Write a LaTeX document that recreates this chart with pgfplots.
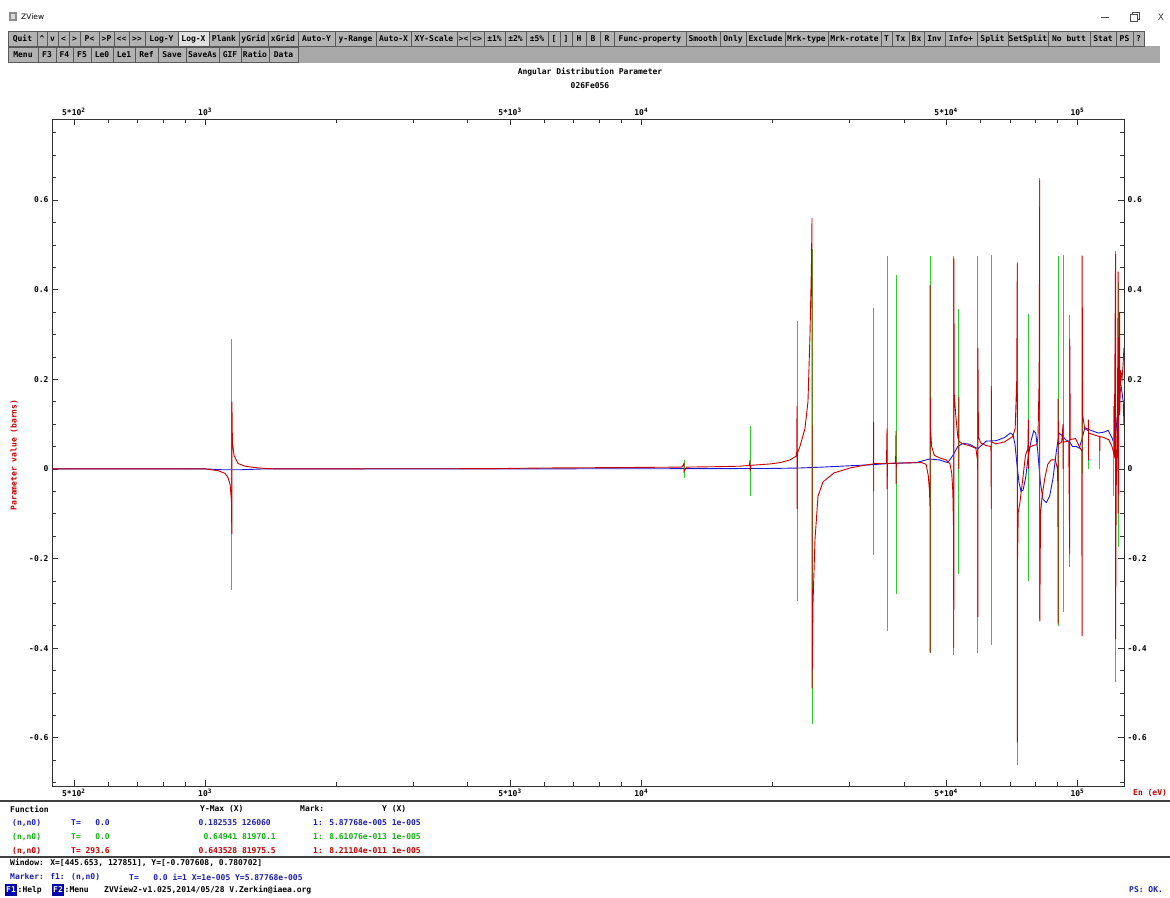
\documentclass[border=0pt]{standalone}
\usepackage{fontspec}
\usepackage{pgfplots}
\pgfplotsset{compat=1.18}
\newfontfamily\zmono{DejaVu Sans Mono}
\newfontfamily\zsans{DejaVu Sans}
\newcommand\zt{\zmono\bfseries\fontsize{8}{9}\selectfont}
\definecolor{zblue}{RGB}{25,25,215}
\definecolor{zgreen}{RGB}{50,200,50}
\definecolor{zred}{RGB}{200,0,0}
\definecolor{tblue}{RGB}{30,30,175}
\definecolor{tgreen}{RGB}{20,175,20}
\definecolor{tred}{RGB}{190,0,0}
\definecolor{btnface}{RGB}{178,178,178}
\definecolor{barbg}{RGB}{168,168,168}
\definecolor{keyblue}{RGB}{0,0,170}

% one toolbar button: left, right, top, label
\newcommand\btn[4]{%
  \draw[fill=btnface,draw=black!65,line width=0.6pt] (#1,#3) rectangle (#2,#3+15);
  \node[font=\zt,inner sep=0pt,anchor=base] at ({(#1+#2)/2},#3+10.6) {#4};}

\begin{document}
\begin{tikzpicture}[x=1pt,y=-1pt]
\useasboundingbox (0,0) rectangle (1170,897);
\fill[white] (0,0) rectangle (1170,897);

% ---- window title bar
\fill[black!45] (9,12) rectangle (17,21);
\fill[black!15] (11,14) rectangle (15,19);
\node[font=\zsans\fontsize{7.5}{9}\selectfont,anchor=west,inner sep=0pt] at (21,17) {ZView};
\draw[black!70,line width=0.7pt] (1101,17) -- (1109,17);
\draw[black!70,line width=0.7pt] (1130,14) rectangle (1137,21);
\draw[black!70,line width=0.7pt] (1132,14) -- (1132,12) -- (1139,12) -- (1139,19) -- (1137,19);
\node[font=\zsans\fontsize{9}{10}\selectfont,inner sep=0pt,black!75] at (1161,17) {X};

% ---- toolbar
\fill[barbg] (8,46) rectangle (1160,63);
\foreach \a/\b/\t in {8/37/Quit,37/47/\textasciicircum,47/58/v,58/69/<,69/80/>,
  80/99/P<,99/114/>P,114/129/<<,129/145/>>,145/178/Log-Y,178/209/Log-X,
  209/239/Plank,239/268/yGrid,268/298/xGrid,298/335/Auto-Y,335/376/y-Range,
  376/411/Auto-X,411/457/XY-Scale,457/470/><,470/484/<>,484/505/±1\%,
  505/526/±2\%,526/548/±5\%,548/560/{[},560/572/{]},572/586/H,586/600/B,
  600/614/R,614/686/Func-property,686/720/Smooth,720/746/Only,746/785/Exclude,
  785/828/Mrk-type,828/881/Mrk-rotate,881/892/T,892/909/Tx,909/924/Bx,
  924/945/Inv,945/977/Info+,977/1008/Split,1008/1048/SetSplit,
  1048/1090/No butt,1090/1116/Stat,1116/1133/PS,1133/1144/?}
  {\btn{\a}{\b}{31}{\t}}
\draw[fill=black!12,draw=black!65,line width=0.6pt] (178,31) rectangle (209,46);
\node[font=\zt,inner sep=0pt,anchor=base] at (193.5,41.6) {Log-X};
\foreach \a/\b/\t in {8/38/Menu,38/56/F3,56/73/F4,73/91/F5,91/113/Le0,
  113/135/Le1,135/158/Ref,158/186/Save,186/219/SaveAs,219/241/GIF,
  241/269/Ratio,269/298/Data}
  {\btn{\a}{\b}{47}{\t}}

% ---- titles
\node[font=\zt,inner sep=0pt] at (590,72) {Angular Distribution Parameter};
\node[font=\zt,inner sep=0pt] at (590,86) {026Fe056};

% ---- plot
\begin{axis}[
  at={(52pt,-786pt)}, anchor=south west, scale only axis,
  width=1072pt, height=667pt,
  xmode=log, xmin=445.653, xmax=127851,
  ymin=-0.707608, ymax=0.780702,
  xtick={500,1000,5000,10000,50000,100000},
  xticklabels={5*10\textsuperscript{2},10\textsuperscript{3},5*10\textsuperscript{3},10\textsuperscript{4},5*10\textsuperscript{4},10\textsuperscript{5}},
  minor xtick={600,700,800,900,2000,3000,4000,6000,7000,8000,9000,20000,30000,40000,60000,70000,80000,90000},
  ytick={-0.6,-0.4,-0.2,0,0.2,0.4,0.6},
  yticklabels={-0.6,-0.4,-0.2,0,0.2,0.4,0.6},
  minor ytick={-0.7,-0.65,-0.55,-0.5,-0.45,-0.35,-0.3,-0.25,-0.15,-0.1,-0.05,0.05,0.1,0.15,0.25,0.3,0.35,0.45,0.5,0.55,0.65,0.7,0.75},
  tick label style={font=\zt},
  major tick length=6pt, minor tick length=4pt,
  tick style={black!80,line width=0.6pt},
  axis line style={black!80,line width=0.8pt},
  unbounded coords=jump,
]
% (n,n0), T=0, smooth component
\addplot[zblue,line width=0.9pt] coordinates {
(445.653,0) (1000,0) (1100,-0.002) (1200,-0.002) (1372,0) (4500,0)
(13630,0.0005) (20000,0.001) (23110,0.002) (26000,0.004) (30100,0.007)
(33330,0.009) (37060,0.012) (42670,0.014) (45780,0.022) (48280,0.020)
(50450,0.014) (51800,0.030) (53190,0.050) (54610,0.057) (56570,0.055)
(59130,0.045) (60180,0.052) (61800,0.062) (65150,0.063) (68090,0.070)
(70170,0.080) (71160,0.076) (71920,0.055) (72680,0.010) (73450,-0.030)
(74240,-0.050) (75020,-0.048) (76080,-0.020) (77180,0.030) (78410,0.065)
(79390,0.085) (80240,0.080) (81090,0.040) (82220,-0.030) (83390,-0.068)
(84880,-0.075) (86400,-0.060) (87940,-0.020) (89500,0.040) (90780,0.080)
(92050,0.075) (94020,0.065) (96030,0.060) (97390,0.050) (99470,0.050)
(100900,0.046) (102330,0.065) (103970,0.092) (106760,0.087) (111560,0.080)
(114980,0.082) (117650,0.086) (119950,0.070) (121870,0.050) (122950,0.100)
(124680,0.165) (126060,0.1825) (127350,0.150) (127851,0.100)
};
% (n,n0), T=0, resonance peaks
\addplot[zgreen,line width=0.9pt] coordinates {
(1152,0.29) (1152,-0.27) (1152,nan)
(12530,0.02) (12530,-0.02) (12530,nan)
(17760,0.095) (17760,-0.06) (17760,nan)
(22750,0.33) (22750,-0.295) (22750,nan)
(24630,0.49) (24630,-0.57) (24630,nan)
(34110,0.36) (34110,-0.192) (34110,nan)
(36600,0.474) (36600,-0.362) (36600,nan)
(38380,0.432) (38380,-0.28) (38380,nan)
(45940,0.474) (45940,-0.411) (45940,nan)
(52070,0.474) (52070,-0.415) (52070,nan)
(53480,0.356) (53480,-0.234) (53480,nan)
(59130,0.476) (59130,-0.411) (59130,nan)
(63450,0.478) (63450,-0.392) (63450,nan)
(72820,0.461) (72820,-0.661) (72820,nan)
(77180,0.345) (77180,-0.25) (77180,nan)
(81970.1,0.64941) (81970.1,-0.336) (81970.1,nan)
(90290,0.474) (90290,-0.35) (90290,nan)
(92710,0.478) (92710,-0.319) (92710,nan)
(96030,0.344) (96030,-0.22) (96030,nan)
(102500,0.337) (102500,-0.01) (102500,nan)
(105990,0.11) (105990,0.0) (105990,nan)
(112540,0.07) (112540,0.0) (112540,nan)
(120800,0.14) (120800,-0.06) (120800,nan)
(122300,0.486) (122300,-0.476) (122300,nan)
(124000,0.416) (124000,-0.174) (124000,nan)
};
% (n,n0), T=293.6
\addplot[zred,line width=0.9pt] coordinates {
(445.653,0) (999,0) (1071,-0.004) (1111,-0.01) (1129,-0.02) (1141,-0.035)
(1149,-0.07) (1151.5,-0.145) (1152,0.15) (1155,0.06) (1165,0.03) (1190,0.012)
(1235,0.006) (1300,0.003) (1372,0.001) (1450,0) (4500,0.0005) (6000,0.002)
(9000,0.003) (12400,0.004) (12530,0.012) (12530,-0.006) (12700,0.004)
(15000,0.005) (16840,0.006) (17700,0.008) (17760,0.02) (17760,-0.005)
(17850,0.008) (19730,0.011) (20800,0.014) (21920,0.02) (22630,0.028)
(22740,0.04) (22750,0.14) (22760,-0.09) (22800,0.035) (23110,0.05)
(23730,0.09) (24110,0.15) (24370,0.3) (24550,0.45) (24630,0.56)
(24640,-0.49) (24760,-0.3) (25020,-0.158) (25420,-0.061) (26100,-0.029)
(27660,-0.009) (30100,0.002) (32000,0.007) (34000,0.011)
(34100,0.012) (34110,0.105) (34115,-0.05) (34130,0.012)
(36500,0.012) (36600,0.09) (36605,-0.045) (36700,0.012)
(38300,0.013) (38380,0.084) (38385,-0.034) (38450,0.013)
(44000,0.014) (45000,0.01) (45500,-0.015) (45800,-0.05) (45930,-0.09)
(45940,-0.41) (45945,0.41) (46000,0.1) (46300,0.05) (47000,0.03)
(48500,0.024) (50000,0.02)
(51000,0.012) (51500,-0.01) (51800,-0.05) (52000,-0.14) (52065,-0.40)
(52070,0.47) (52200,0.165) (52600,0.12) (53200,0.07)
(53470,0.065) (53480,0.16) (53485,0.0) (53500,0.062) (54500,0.056)
(56500,0.052) (58500,0.046) (59000,0.02) (59120,-0.02) (59130,-0.33)
(59135,0.27) (59300,0.072) (60000,0.058) (61800,0.052)
(63300,0.05) (63400,0.03) (63450,-0.09) (63455,0.185) (63550,0.06)
(65000,0.056) (68000,0.06) (71000,0.072) (72000,0.09) (72600,0.2)
(72800,0.458) (72820,-0.61) (72900,-0.2) (73200,-0.095) (73800,-0.076)
(75000,-0.02) (76000,0.03) (77000,0.045)
(77180,0.11) (77190,0.0) (77300,0.047) (79000,0.052) (80800,0.054)
(81200,0.072) (81700,0.2) (81975.5,0.643528) (81980,-0.34) (82300,-0.1)
(83000,-0.06) (84200,-0.02) (85500,0.01) (87000,0.02) (89000,0.02)
(90000,0.0) (90200,-0.05)
(90290,-0.345) (90295,0.156) (90500,0.055) (92000,0.06) (92710,0.1)
(92715,0.0) (92800,0.06) (95500,0.062) (96030,-0.19) (96035,0.29)
(96300,0.065) (99000,0.068) (101000,0.05) (102300,0.04) (102500,-0.373)
(102505,0.476) (102800,0.12) (103900,0.09) (105900,0.085) (105990,0.11)
(105995,0.02) (106100,0.08) (110000,0.075) (112500,0.072) (112540,0.04)
(112600,0.072) (115000,0.07) (118000,0.065) (120000,0.05) (121500,0.03)
(122300,0.48) (122310,-0.38) (122700,-0.05) (123500,0.1) (124000,0.44)
(124010,-0.1) (124400,0.15) (125000,0.35) (125010,0.12) (125600,0.22)
(126500,0.2) (127200,0.23) (127851,0.27)
};
\end{axis}

% upper and right tick labels
\begin{axis}[
  at={(52pt,-786pt)}, anchor=south west, scale only axis,
  width=1072pt, height=667pt,
  xmode=log, xmin=445.653, xmax=127851,
  ymin=-0.707608, ymax=0.780702,
  xtick={500,1000,5000,10000,50000,100000},
  xticklabels={5*10\textsuperscript{2},10\textsuperscript{3},5*10\textsuperscript{3},10\textsuperscript{4},5*10\textsuperscript{4},10\textsuperscript{5}},
  ytick={-0.6,-0.4,-0.2,0,0.2,0.4,0.6},
  yticklabels={-0.6,-0.4,-0.2,0,0.2,0.4,0.6},
  xticklabel pos=upper, yticklabel pos=upper,
  tick label style={font=\zt},
  major tick length=0pt, minor tick length=0pt,
  axis line style={draw=none},
]
\end{axis}

% axis titles
\node[font=\zt,text=tred,rotate=90,inner sep=0pt] at (14,455) {Parameter value (barns)};
\node[font=\zt,text=tred,anchor=west,inner sep=0pt] at (1133,793) {En (eV)};

% ---- information panel
\draw[black!75,line width=1.2pt] (0,801) -- (1170,801);
\draw[black!75,line width=1.2pt] (0,857) -- (1170,857);
\begin{scope}[every node/.style={font=\zt,inner sep=0pt,anchor=west}]
\node at (10,809) {Function};
\node at (200,809) {Y-Max (X)};
\node at (300,809) {Mark:};
\node at (382,809) {Y (X)};
\node[text=tblue] at (12,823) {(n,n0)};
\node[text=tblue] at (71,823) {T=\ \ \ 0.0};
\node[text=tblue,anchor=east] at (271,823) {0.182535 126060};
\node[text=tblue] at (313,823) {1: 5.87768e-005 1e-005};
\node[text=tgreen] at (12,837) {(n,n0)};
\node[text=tgreen] at (71,837) {T=\ \ \ 0.0};
\node[text=tgreen,anchor=east] at (276,837) {0.64941 81970.1};
\node[text=tgreen] at (313,837) {1: 8.61076e-013 1e-005};
\node[text=tred] at (12,851) {(n,n0)};
\node[text=tred] at (71,851) {T= 293.6};
\node[text=tred,anchor=east] at (276,851) {0.643528 81975.5};
\node[text=tred] at (313,851) {1: 8.21104e-011 1e-005};
\node at (10,863) {Window: X=[445.653, 127851], Y=[-0.707608, 0.780702]};
\node[text=tblue] at (10,877) {Marker: f1: (n,n0)};
\node[text=tblue] at (129,877) {T=\ \ \ 0.0 i=1 X=1e-005 Y=5.87768e-005};
\fill[keyblue] (5,884) rectangle (17,896);
\node[text=white] at (6,890) {F1};
\node at (17.5,890) {:Help};
\fill[keyblue] (52,884) rectangle (64,896);
\node[text=white] at (53,890) {F2};
\node at (64.5,890) {:Menu};
\node at (104,890) {ZVView2-v1.025,2014/05/28 V.Zerkin@iaea.org};
\node[text=tblue] at (1129,890) {PS: OK.};
\end{scope}
\end{tikzpicture}
\end{document}
